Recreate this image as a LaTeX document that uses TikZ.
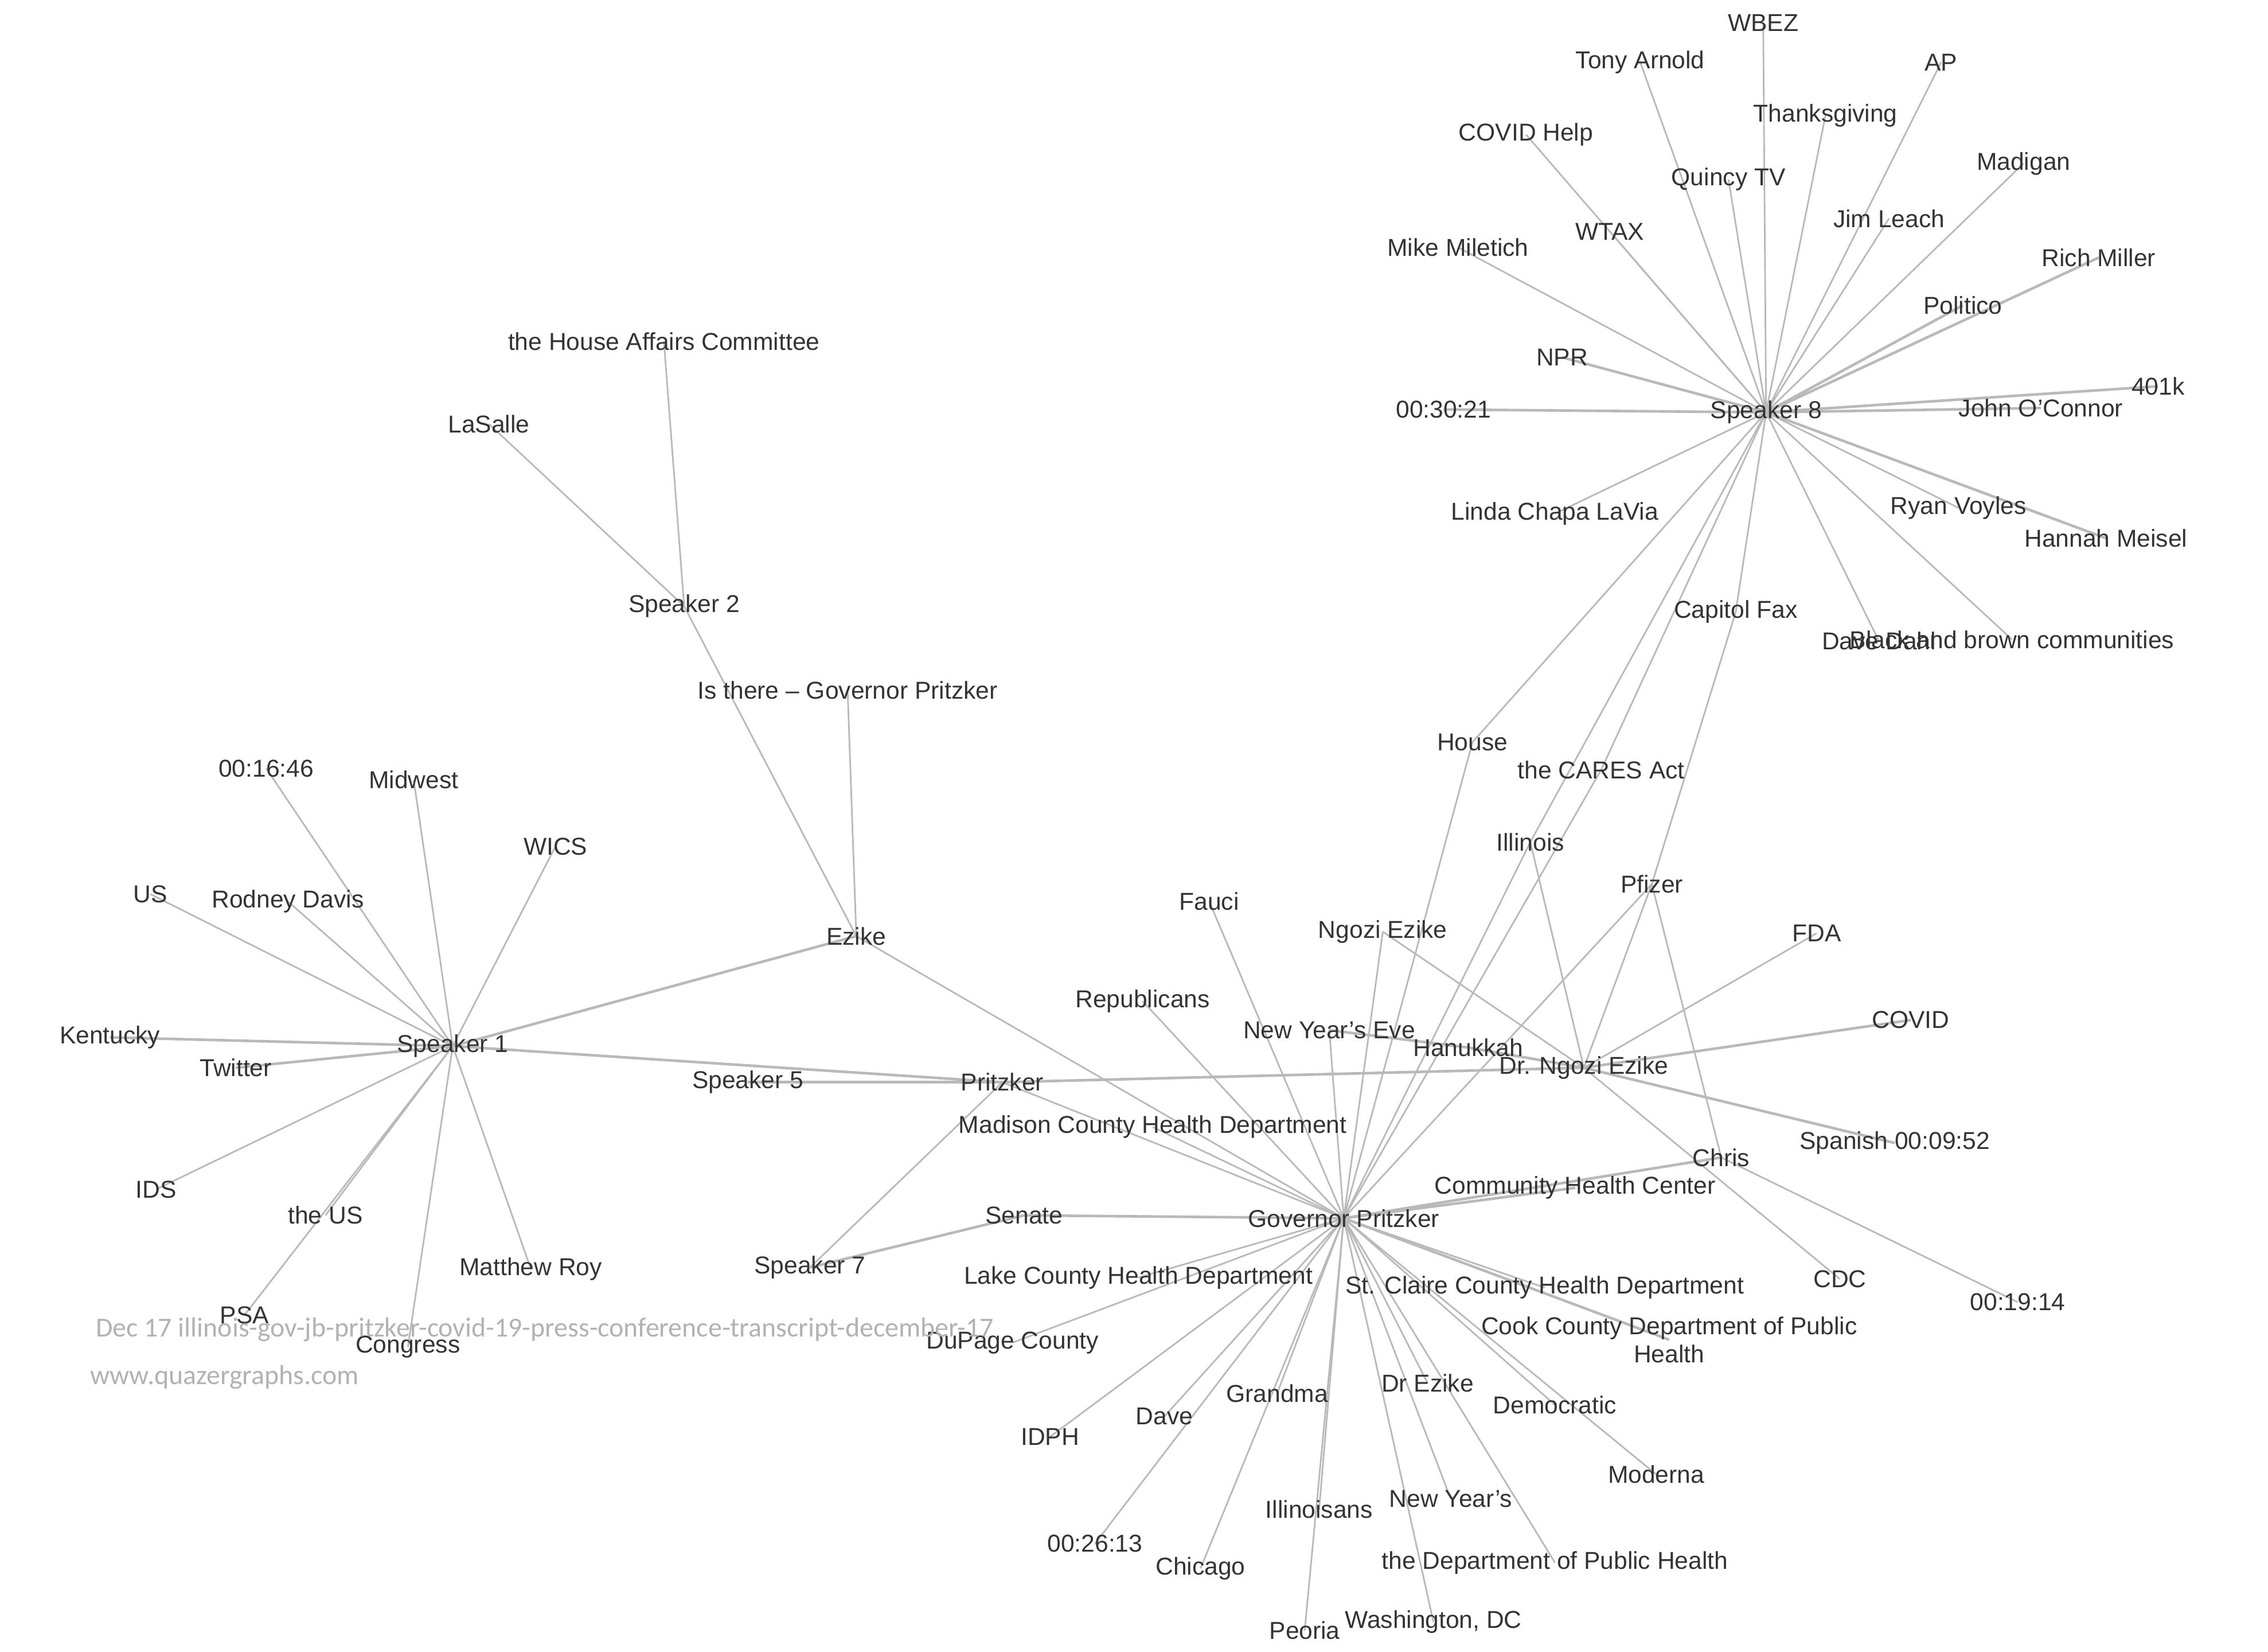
\documentclass[tikz,border=0pt]{standalone}
\usepackage{fontspec}
\setmainfont{Liberation Sans}
\newfontfamily\markfont{Carlito}
\usetikzlibrary{backgrounds}
\definecolor{textgray}{RGB}{51,51,51}
\definecolor{edgegray}{RGB}{185,185,185}
\definecolor{markgray}{RGB}{178,178,178}

\begin{document}
\begin{tikzpicture}[x=0.025cm,y=-0.025cm,
    word/.style={font=\fontsize{12}{14}\selectfont,text=textgray,inner sep=0pt,align=center},
    linkline/.style={draw=edgegray,line width=0.8pt},
    heavyline/.style={draw=edgegray,line width=1.3pt},
    wmark/.style={font=\markfont\fontsize{13.5}{16}\selectfont,text=markgray,inner sep=0pt,anchor=west}]
    \useasboundingbox (0,0) rectangle (1568,1141.8);

    % Speaker 8 and the press
    \node[word] (s8) at (1221,285) {Speaker 8};
    \node[word] (wbez) at (1219,16) {WBEZ};
    \node[word] (tony) at (1134,43) {Tony Arnold};
    \node[word] (ap) at (1342,43) {AP};
    \node[word] (thanks) at (1262,80) {Thanksgiving};
    \node[word] (help) at (1055,93) {COVID Help};
    \node[word] (madigan) at (1399,113) {Madigan};
    \node[word] (quincy) at (1195,124) {Quincy TV};
    \node[word] (leach) at (1306,151) {Jim Leach};
    \node[word] (wtax) at (1113,160) {WTAX};
    \node[word] (mike) at (1008,171) {Mike Miletich};
    \node[word] (rich) at (1451,178) {Rich Miller};
    \node[word] (politico) at (1357,211) {Politico};
    \node[word] (npr) at (1080,247) {NPR};
    \node[word] (k401) at (1492,267) {401k};
    \node[word] (john) at (1411,282) {John O’Connor};
    \node[word] (t3021) at (998,283) {00:30:21};
    \node[word] (linda) at (1075,355) {Linda Chapa LaVia};
    \node[word] (ryan) at (1354,351) {Ryan Voyles};
    \node[word] (hannah) at (1456,372) {Hannah Meisel};
    \node[word] (fax) at (1200,423) {Capitol Fax};
    \node[word] (dahl) at (1299,443) {Dave Dahl};
    \node[word] (black) at (1391,442) {Black and brown communities};

    % between the two hubs
    \node[word] (house) at (1018,513) {House};
    \node[word] (cares) at (1107,532) {the CARES Act};
    \node[word] (illinois) at (1058,582) {Illinois};
    \node[word] (pfizer) at (1142,611) {Pfizer};
    \node[word] (fda) at (1256,645) {FDA};
    \node[word] (covid) at (1321,705) {COVID};
    \node[word] (dne) at (1095,738) {Dr. Ngozi Ezike};
    \node[word] (spanish) at (1310,790) {Spanish 00:09:52};
    \node[word] (chris) at (1190,800) {Chris};
    \node[word] (cdc) at (1272,884) {CDC};
    \node[word] (t1914) at (1395,900) {00:19:14};
    \node[word] (ngozi) at (956,644) {Ngozi Ezike};
    \node[word] (nye) at (919,712) {New Year’s Eve};
    \node[word] (hanukkah) at (1015,724) {Hanukkah};
    \node[word] (fauci) at (836,623) {Fauci};
    \node[word] (republicans) at (790,692) {Republicans};

    % Governor Pritzker
    \node[word] (gp) at (929,842) {Governor Pritzker};
    \node[word] (chc) at (1089,821) {Community Health Center};
    \node[word] (madison) at (797,779) {Madison County Health Department};
    \node[word] (pritzker) at (693,748) {Pritzker};
    \node[word] (speaker5) at (517,748) {Speaker 5};
    \node[word] (senate) at (708,840) {Senate};
    \node[word] (speaker7) at (560,876) {Speaker 7};
    \node[word] (lake) at (787,883) {Lake County Health Department};
    \node[word] (stclaire) at (1068,890) {St. Claire County Health Department};
    \node[word] (cook) at (1154,926) {Cook County Department of Public\\Health};
    \node[word] (dupage) at (700,928) {DuPage County};
    \node[word] (idph) at (726,993) {IDPH};
    \node[word] (dave) at (805,979) {Dave};
    \node[word] (grandma) at (883,963) {Grandma};
    \node[word] (drezike) at (987,956) {Dr Ezike};
    \node[word] (democratic) at (1075,971) {Democratic};
    \node[word] (moderna) at (1145,1019) {Moderna};
    \node[word] (newyears) at (1003,1036) {New Year’s};
    \node[word] (illinoisans) at (912,1043) {Illinoisans};
    \node[word] (t2613) at (757,1067) {00:26:13};
    \node[word] (chicago) at (830,1084) {Chicago};
    \node[word] (dph) at (1075,1080) {the Department of Public Health};
    \node[word] (peoria) at (902,1127) {Peoria};
    \node[word] (washington) at (991,1121) {Washington, DC};

    % Speaker 2 and Ezike
    \node[word] (ezike) at (592,647) {Ezike};
    \node[word] (isthere) at (586,477) {Is there – Governor Pritzker};
    \node[word] (speaker2) at (473,419) {Speaker 2};
    \node[word] (hac) at (459,236) {the House Affairs Committee};
    \node[word] (lasalle) at (338,293) {LaSalle};

    % Speaker 1
    \node[word] (s1) at (313,723) {Speaker 1};
    \node[word] (t1646) at (184,531) {00:16:46};
    \node[word] (midwest) at (286,539) {Midwest};
    \node[word] (wics) at (384,585) {WICS};
    \node[word] (us) at (104,618) {US};
    \node[word] (rodney) at (199,623) {Rodney Davis};
    \node[word] (kentucky) at (76,717) {Kentucky};
    \node[word] (twitter) at (163,738) {Twitter};
    \node[word] (ids) at (108,822) {IDS};
    \node[word] (theus) at (225,840) {the US};
    \node[word] (psa) at (169,909) {PSA};
    \node[word] (matthew) at (367,877) {Matthew Roy};
    \node[word] (congress) at (282,931) {Congress};

    % watermark
    \node[wmark] (title) at (66,919) {Dec 17 illinois-gov-jb-pritzker-covid-19-press-conference-transcript-december-17};
    \node[wmark] (site) at (62,952) {www.quazergraphs.com};

    \begin{scope}[on background layer]
    % edges of Speaker 8
    \draw[linkline] (s8.center) -- (wbez.center);
    \draw[linkline] (s8.center) -- (tony.center);
    \draw[linkline] (s8.center) -- (ap.center);
    \draw[linkline] (s8.center) -- (thanks.center);
    \draw[linkline] (s8.center) -- (help.center);
    \draw[linkline] (s8.center) -- (madigan.center);
    \draw[linkline] (s8.center) -- (quincy.center);
    \draw[linkline] (s8.center) -- (leach.center);
    \draw[linkline] (s8.center) -- (wtax.center);
    \draw[linkline] (s8.center) -- (mike.center);
    \draw[heavyline] (s8.center) -- (rich.center);
    \draw[heavyline] (s8.center) -- (politico.center);
    \draw[heavyline] (s8.center) -- (npr.center);
    \draw[heavyline] (s8.center) -- (k401.center);
    \draw[heavyline] (s8.center) -- (john.center);
    \draw[heavyline] (s8.center) -- (t3021.center);
    \draw[linkline] (s8.center) -- (linda.center);
    \draw[linkline] (s8.center) -- (ryan.center);
    \draw[heavyline] (s8.center) -- (hannah.center);
    \draw[linkline] (s8.center) -- (fax.center);
    \draw[linkline] (s8.center) -- (dahl.center);
    \draw[linkline] (s8.center) -- (black.center);
    \draw[linkline] (s8.center) -- (house.center);
    \draw[linkline] (s8.center) -- (illinois.center);
    \draw[linkline] (s8.center) -- (cares.center);

    % edges of Dr. Ngozi Ezike, Pfizer and Chris
    \draw[heavyline] (dne.center) -- (pritzker.center);
    \draw[heavyline] (nye.center) -- (hanukkah.center);
    \draw[heavyline] (hanukkah.center) -- (dne.center);
    \draw[linkline] (dne.center) -- (ngozi.center);
    \draw[linkline] (dne.center) -- (illinois.center);
    \draw[linkline] (dne.center) -- (pfizer.center);
    \draw[linkline] (dne.center) -- (fda.center);
    \draw[heavyline] (dne.center) -- (covid.center);
    \draw[heavyline] (dne.center) -- (spanish.center);
    \draw[linkline] (dne.center) -- (cdc.center);
    \draw[linkline] (pfizer.center) -- (fax.center);
    \draw[linkline] (pfizer.center) -- (chris.center);
    \draw[linkline] (chris.center) -- (t1914.center);

    % edges of Governor Pritzker
    \draw[linkline] (gp.center) -- (ezike.center);
    \draw[linkline] (gp.center) -- (pritzker.center);
    \draw[linkline] (gp.center) -- (madison.center);
    \draw[linkline] (gp.center) -- (republicans.center);
    \draw[linkline] (gp.center) -- (fauci.center);
    \draw[linkline] (gp.center) -- (nye.center);
    \draw[linkline] (gp.center) -- (ngozi.center);
    \draw[linkline] (gp.center) -- (house.center);
    \draw[linkline] (gp.center) -- (illinois.center);
    \draw[linkline] (gp.center) -- (cares.center);
    \draw[linkline] (gp.center) -- (pfizer.center);
    \draw[heavyline] (gp.center) -- (chc.center);
    \draw[heavyline] (gp.center) -- (chris.center);
    \draw[heavyline] (gp.center) -- (senate.center);
    \draw[linkline] (gp.center) -- (lake.center);
    \draw[linkline] (gp.center) -- (stclaire.center);
    \draw[heavyline] (gp.center) -- (cook.center);
    \draw[linkline] (gp.center) -- (dupage.center);
    \draw[linkline] (gp.center) -- (idph.center);
    \draw[linkline] (gp.center) -- (dave.center);
    \draw[linkline] (gp.center) -- (grandma.center);
    \draw[linkline] (gp.center) -- (drezike.center);
    \draw[linkline] (gp.center) -- (democratic.center);
    \draw[linkline] (gp.center) -- (moderna.center);
    \draw[linkline] (gp.center) -- (t2613.center);
    \draw[linkline] (gp.center) -- (chicago.center);
    \draw[linkline] (gp.center) -- (illinoisans.center);
    \draw[linkline] (gp.center) -- (newyears.center);
    \draw[linkline] (gp.center) -- (peoria.center);
    \draw[linkline] (gp.center) -- (washington.center);
    \draw[linkline] (gp.center) -- (dph.center);

    % Pritzker, Speaker 5 and Speaker 7
    \draw[heavyline] (pritzker.center) -- (speaker5.center);
    \draw[linkline] (pritzker.center) -- (speaker7.center);
    \draw[heavyline] (speaker7.center) -- (senate.center);

    % Speaker 2 and Ezike
    \draw[linkline] (speaker2.center) -- (hac.center);
    \draw[linkline] (speaker2.center) -- (lasalle.center);
    \draw[linkline] (speaker2.center) -- (ezike.center);
    \draw[linkline] (ezike.center) -- (isthere.center);

    % edges of Speaker 1
    \draw[heavyline] (s1.center) -- (ezike.center);
    \draw[heavyline] (s1.center) -- (pritzker.center);
    \draw[linkline] (s1.center) -- (t1646.center);
    \draw[linkline] (s1.center) -- (midwest.center);
    \draw[linkline] (s1.center) -- (wics.center);
    \draw[linkline] (s1.center) -- (us.center);
    \draw[linkline] (s1.center) -- (rodney.center);
    \draw[heavyline] (s1.center) -- (kentucky.center);
    \draw[heavyline] (s1.center) -- (twitter.center);
    \draw[linkline] (s1.center) -- (ids.center);
    \draw[linkline] (s1.center) -- (theus.center);
    \draw[linkline] (s1.center) -- (psa.center);
    \draw[linkline] (s1.center) -- (matthew.center);
    \draw[linkline] (s1.center) -- (congress.center);
    \end{scope}
\end{tikzpicture}
\end{document}
